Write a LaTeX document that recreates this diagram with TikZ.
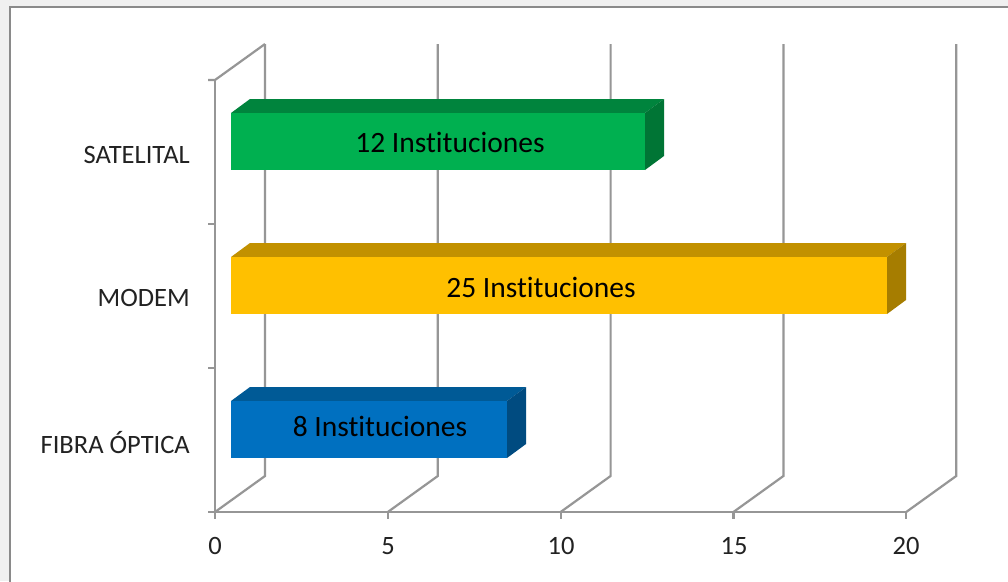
\documentclass[tikz,border=0pt]{standalone}
\usepackage{fontspec}
\setmainfont[Ligatures={NoCommon}]{Carlito}
\definecolor{bgout}{HTML}{F0F0F0}
\definecolor{frameC}{HTML}{8A8A8A}
\definecolor{gridC}{HTML}{969696}
\definecolor{txtC}{HTML}{222222}
\definecolor{gFront}{HTML}{00B050}
\definecolor{gTop}{HTML}{00843D}
\definecolor{gSide}{HTML}{007535}
\definecolor{yFront}{HTML}{FFC000}
\definecolor{yTop}{HTML}{C29100}
\definecolor{ySide}{HTML}{A67D00}
\definecolor{bFront}{HTML}{0070C0}
\definecolor{bTop}{HTML}{005A96}
\definecolor{bSide}{HTML}{004B80}
\newcommand\chartbar[5]{% ytop, xright, front, top, side
  \fill[#4] (231,#1) -- (250,#1-14) -- (#2+19,#1-14) -- (#2,#1) -- cycle;
  \fill[#5] (#2,#1) -- (#2+19,#1-14) -- (#2+19,#1+43) -- (#2,#1+57) -- cycle;
  \fill[#3] (231,#1) rectangle (#2,#1+57);
}
\begin{document}
\begin{tikzpicture}[x=1pt,y=-1pt,
  grid/.style={draw=gridC,line width=2.2pt},
  catlabel/.style={anchor=base east,inner sep=0pt,text=txtC,font=\fontsize{26.5}{30}\selectfont},
  numlabel/.style={anchor=base,inner sep=0pt,text=txtC,font=\fontsize{26.5}{30}\selectfont},
  barlabel/.style={anchor=base,inner sep=0pt,text=black,font=\fontsize{29.5}{33}\selectfont}]
\useasboundingbox (0,0) rectangle (1008,581);
\fill[bgout] (0,0) rectangle (1008,581);
\fill[white] (10,7) rectangle (1008,581);
\draw[frameC,line width=2.2pt] (10,600) -- (10,7) -- (1020,7);
% back wall gridlines and floor diagonals
\foreach \k in {0,...,4}{
  \draw[grid] (265+172.8*\k,44) -- (265+172.8*\k,476) -- (215+172.8*\k,512);
  \draw[grid] (215+172.8*\k,512) -- (215+172.8*\k,519);
}
% side wall
\draw[grid] (208,80) -- (215,80) -- (265,44);
\draw[grid] (215,80) -- (215,512);
\foreach \yy in {224,368,512}{\draw[grid] (208,\yy) -- (215,\yy);}
% front axis
\draw[grid] (215,512) -- (906,512);
% bars
\chartbar{113}{645}{gFront}{gTop}{gSide}
\chartbar{257}{887}{yFront}{yTop}{ySide}
\chartbar{401}{507}{bFront}{bTop}{bSide}
% bar labels
\node[barlabel] (l12) at (450,152) {12 Instituciones};
\node[barlabel] (l25) at (541,297) {25 Instituciones};
\node[barlabel] (l8) at (380,436) {8 Instituciones};
% category labels
\node[catlabel] (sat) at (190,163) {SATELITAL};
\node[catlabel] (mod) at (190,306) {MODEM};
\node[catlabel] (fib) at (190,453) {FIBRA ÓPTICA};
% number labels
\node[numlabel] (n0) at (215,554) {0};
\node[numlabel] (n5) at (388,554) {5};
\node[numlabel] (n10) at (561,554) {10};
\node[numlabel] (n15) at (734,554) {15};
\node[numlabel] (n20) at (906,554) {20};
\end{tikzpicture}
\end{document}
